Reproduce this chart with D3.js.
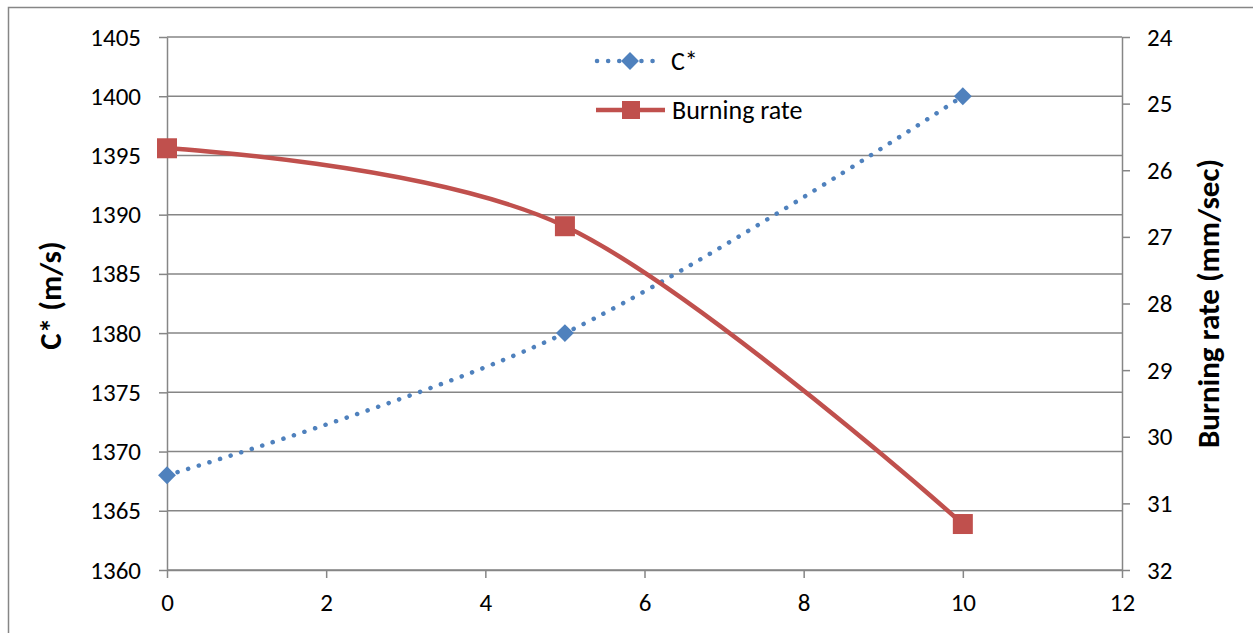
<!DOCTYPE html>
<html>
<head>
<meta charset="utf-8">
<script src="https://cdn.jsdelivr.net/npm/d3@7"></script>
<style>
  body { margin: 0; background: #fff; }
  svg text { font-family: Carlito, Lato, "Liberation Sans", sans-serif; }
</style>
</head>
<body>
<svg id="chart" width="1253" height="633"></svg>
<script>
// data
const xValues = [0, 5, 10];
const cStar = [1368, 1380, 1400];
const burningRate = [25.67, 26.84, 31.31];
const xTicks = [0, 2, 4, 6, 8, 10, 12];
const leftTicks = [1360, 1365, 1370, 1375, 1380, 1385, 1390, 1395, 1400, 1405];
const rightTicks = [24, 25, 26, 27, 28, 29, 30, 31, 32];

const blue = "#4F81BD";
const red = "#C0504D";
const grid = "#868686";

const svg = d3.select("#chart");
const plot = {left: 167, right: 1122, top: 37, bottom: 570};

// outer chart border
svg.append("rect")
  .attr("x", 8.5).attr("y", 7.5)
  .attr("width", 1300).attr("height", 700)
  .attr("fill", "none").attr("stroke", grid).attr("stroke-width", 1.5);

const x = d3.scaleLinear().domain([0, 12]).range([plot.left, plot.right]);
const yL = d3.scaleLinear().domain([1360, 1405]).range([plot.bottom, plot.top]);
const yR = d3.scaleLinear().domain([24, 32]).range([plot.top, plot.bottom]);

// horizontal gridlines
svg.append("g").selectAll("line")
  .data(leftTicks)
  .join("line")
  .attr("x1", plot.left).attr("x2", plot.right)
  .attr("y1", d => yL(d)).attr("y2", d => yL(d))
  .attr("stroke", grid).attr("stroke-width", 1.5);

function styleAxis(g) {
  g.select(".domain").attr("stroke", grid).attr("stroke-width", 1.5);
  g.selectAll(".tick line").attr("stroke", grid).attr("stroke-width", 1.5);
  g.selectAll(".tick text").attr("fill", "#000").attr("font-size", "25px");
}

const leftAxis = svg.append("g")
  .attr("transform", `translate(${plot.left},0)`)
  .call(d3.axisLeft(yL).tickValues(leftTicks).tickFormat(d3.format("d"))
    .tickSize(8).tickPadding(18).tickSizeOuter(0));
styleAxis(leftAxis);

const rightAxis = svg.append("g")
  .attr("transform", `translate(${plot.right},0)`)
  .call(d3.axisRight(yR).tickValues(rightTicks).tickFormat(d3.format("d"))
    .tickSize(8).tickPadding(17).tickSizeOuter(0));
styleAxis(rightAxis);

const bottomAxis = svg.append("g")
  .attr("transform", `translate(0,${plot.bottom})`)
  .call(d3.axisBottom(x).tickValues(xTicks).tickSize(8).tickPadding(15).tickSizeOuter(0));
styleAxis(bottomAxis);

// axis titles
svg.append("text")
  .attr("transform", `translate(61,${(plot.top + plot.bottom) / 2 - 8}) rotate(-90)`)
  .attr("text-anchor", "middle")
  .attr("font-size", "31px").attr("font-weight", "bold")
  .text("C* (m/s)");

svg.append("text")
  .attr("transform", `translate(1219,${(plot.top + plot.bottom) / 2}) rotate(-90)`)
  .attr("text-anchor", "middle")
  .attr("font-size", "31px").attr("font-weight", "bold")
  .text("Burning rate (mm/sec)");

const cData = xValues.map((d, i) => [d, cStar[i]]);
const bData = xValues.map((d, i) => [d, burningRate[i]]);

// C* smoothed dotted line
svg.append("path")
  .datum(cData)
  .attr("d", d3.line().x(d => x(d[0])).y(d => yL(d[1])).curve(d3.curveCardinal.tension(0)))
  .attr("fill", "none").attr("stroke", blue).attr("stroke-width", 4.5)
  .attr("stroke-linecap", "round").attr("stroke-dasharray", "0.1 11");

// burning rate smoothed line
svg.append("path")
  .datum(bData)
  .attr("d", d3.line().x(d => x(d[0])).y(d => yR(d[1])).curve(d3.curveCardinal.tension(0)))
  .attr("fill", "none").attr("stroke", red).attr("stroke-width", 4.5);

const diamond = d3.symbol().type(d3.symbolSquare).size(160);

svg.append("g").selectAll("path")
  .data(cData)
  .join("path")
  .attr("d", diamond)
  .attr("transform", d => `translate(${x(d[0])},${yL(d[1])}) rotate(45)`)
  .attr("fill", blue);

svg.append("g").selectAll("rect")
  .data(bData)
  .join("rect")
  .attr("x", d => x(d[0]) - 10).attr("y", d => yR(d[1]) - 10)
  .attr("width", 20).attr("height", 20)
  .attr("fill", red);

// legend
const legend = svg.append("g");
legend.append("line")
  .attr("x1", 597).attr("x2", 660).attr("y1", 61).attr("y2", 61)
  .attr("stroke", blue).attr("stroke-width", 4.5)
  .attr("stroke-linecap", "round").attr("stroke-dasharray", "0.1 11");
legend.append("path")
  .attr("d", diamond)
  .attr("transform", "translate(630,61) rotate(45)")
  .attr("fill", blue);
legend.append("text")
  .attr("x", 671).attr("y", 70)
  .attr("font-size", "26px").text("C*");

legend.append("line")
  .attr("x1", 596).attr("x2", 665).attr("y1", 110).attr("y2", 110)
  .attr("stroke", red).attr("stroke-width", 4.5);
legend.append("rect")
  .attr("x", 622).attr("y", 101).attr("width", 18).attr("height", 18)
  .attr("fill", red);
legend.append("text")
  .attr("x", 672).attr("y", 119)
  .attr("font-size", "26px").text("Burning rate");
</script>
</body>
</html>
